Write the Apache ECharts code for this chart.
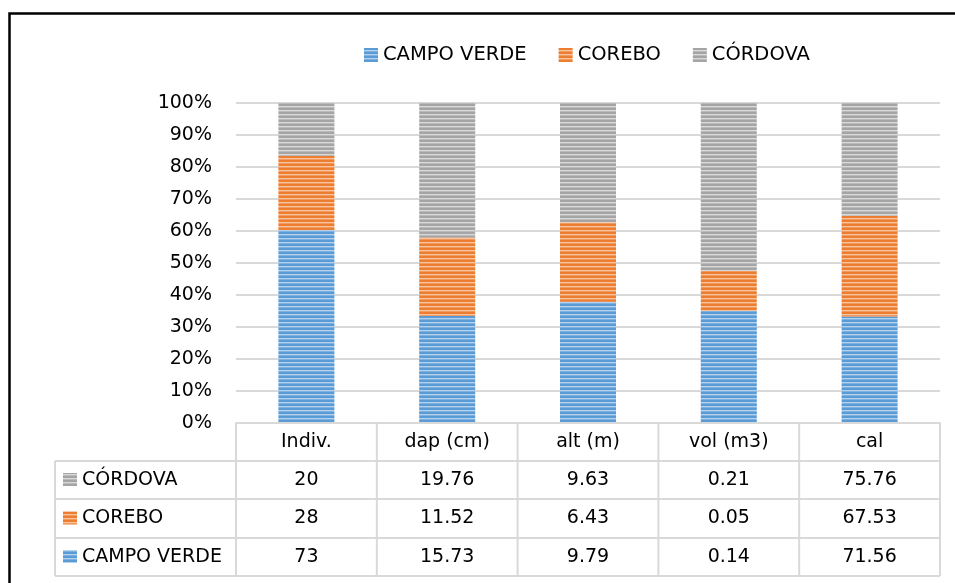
<!DOCTYPE html>
<html>
<head>
<meta charset="utf-8">
<script src="https://cdn.jsdelivr.net/npm/echarts@6/dist/echarts.min.js"></script>
<style>
html,body{margin:0;padding:0;background:#fff;}
#c{width:955px;height:583px;}
</style>
</head>
<body>
<div id="c"></div>
<script>
const categories = ['Indiv.', 'dap (cm)', 'alt (m)', 'vol (m3)', 'cal'];
const seriesNames = ['CAMPO VERDE', 'COREBO', 'CÓRDOVA'];
const campoVerde = [73, 15.73, 9.79, 0.14, 71.56];
const corebo = [28, 11.52, 6.43, 0.05, 67.53];
const cordova = [20, 19.76, 9.63, 0.21, 75.76];
const yTickMax = 100;
const yTickStep = 10;

const FONT = '"DejaVu Sans"';
const FS = 19;
const G = {left: 236, right: 940, top: 103, bottom: 423};
const TABLE = {labelLeft: 55, rows: [423, 461, 499, 538, 576]};

function stripe(base, light, mid) {
  const c = document.createElement('canvas');
  c.width = 8; c.height = 4;
  const ctx = c.getContext('2d');
  const rows = [base, base, light, mid];
  rows.forEach((col, i) => { ctx.fillStyle = col; ctx.fillRect(0, i, 8, 1); });
  return {image: c, repeat: 'repeat'};
}
const fills = [
  stripe('#5B9BD5', '#B4D1EE', '#7FB1E0'),
  stripe('#ED7D31', '#F8C4A0', '#F19A5E'),
  stripe('#A5A5A5', '#D9D9D9', '#BABABA')
];

const raw = [campoVerde, corebo, cordova];
const totals = categories.map((_, i) => raw.reduce((s, arr) => s + arr[i], 0));
const pct = raw.map(arr => arr.map((v, i) => v / totals[i] * 100));

const chart = echarts.init(document.getElementById('c'), null, {renderer: 'canvas'});

const graphics = [];
graphics.push({type: 'rect', shape: {x: 9.5, y: 13.5, width: 1000, height: 700},
  style: {fill: null, stroke: '#000', lineWidth: 2.5}, z: 100});

const colW = (G.right - G.left) / categories.length;
const lineStyle = {stroke: '#D9D9D9', lineWidth: 2};
TABLE.rows.forEach((y, i) => {
  const x1 = i === 0 ? G.left : TABLE.labelLeft;
  graphics.push({type: 'line', shape: {x1: x1, y1: y, x2: G.right, y2: y}, style: lineStyle, z: 5});
});
graphics.push({type: 'line', shape: {x1: TABLE.labelLeft, y1: TABLE.rows[1], x2: TABLE.labelLeft, y2: TABLE.rows[4]}, style: lineStyle, z: 5});
for (let i = 0; i <= categories.length; i++) {
  const x = G.left + i * colW;
  graphics.push({type: 'line', shape: {x1: x, y1: TABLE.rows[0], x2: x, y2: TABLE.rows[4]}, style: lineStyle, z: 5});
}
const tableOrder = [2, 1, 0];
tableOrder.forEach((si, r) => {
  const yc = (TABLE.rows[r + 1] + TABLE.rows[r + 2]) / 2;
  graphics.push({type: 'rect', shape: {x: 63, y: yc - 7, width: 14, height: 13},
    style: {fill: fills[si]}, z: 6});
  graphics.push({type: 'text', x: 82, y: yc, style: {text: seriesNames[si], fill: '#000',
    font: FS + 'px ' + FONT, verticalAlign: 'middle', align: 'left'}, z: 6});
  raw[si].forEach((v, ci) => {
    graphics.push({type: 'text', x: G.left + (ci + 0.5) * colW, y: yc,
      style: {text: String(v), fill: '#000', font: FS + 'px ' + FONT, verticalAlign: 'middle', align: 'center'}, z: 6});
  });
});

chart.setOption({
  backgroundColor: '#fff',
  animation: false,
  legend: {
    top: 40, left: 359,
    itemWidth: 14, itemHeight: 14, itemGap: 32,
    icon: 'rect',
    textStyle: {fontFamily: FONT, fontSize: 19.5, color: '#000'},
    data: seriesNames
  },
  grid: {left: G.left, right: 955 - G.right, top: G.top, bottom: 583 - G.bottom, containLabel: false},
  xAxis: {
    type: 'category', data: categories,
    axisLine: {show: true, lineStyle: {color: '#D9D9D9', width: 2}},
    axisTick: {show: false},
    axisLabel: {margin: 10, fontFamily: FONT, fontSize: FS, color: '#000'}
  },
  yAxis: {
    type: 'value', min: 0, max: yTickMax, interval: yTickStep,
    axisLine: {show: false}, axisTick: {show: false},
    splitLine: {lineStyle: {color: '#D9D9D9', width: 2}},
    axisLabel: {margin: 24, fontFamily: FONT, fontSize: FS, color: '#000', formatter: '{value}%'}
  },
  series: seriesNames.map((n, i) => ({
    name: n, type: 'bar', stack: 'total', barWidth: 56,
    itemStyle: {color: fills[i]},
    data: pct[i]
  })),
  graphic: graphics
});
</script>
</body>
</html>
